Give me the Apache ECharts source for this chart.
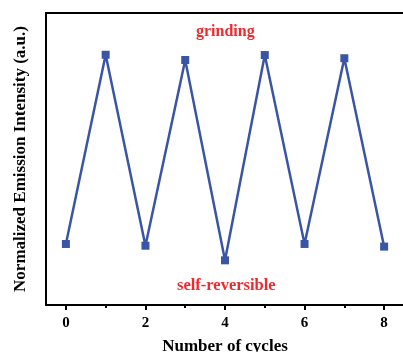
<!doctype html>
<html>
    <head>
        <meta charset="utf-8">
        <title>Emission cycles</title>
        <style>
            html, body { margin: 0; padding: 0; background: #fff; }
            #main { width: 403px; height: 352px; }
        </style>
    </head>
    <body>
        <div id="main"></div>
        <script src="https://cdn.jsdelivr.net/npm/echarts@6/dist/echarts.min.js"></script>
        <script>

// cycle number and normalized intensity
var cycles = [0, 1, 2, 3, 4, 5, 6, 7, 8];
var intensity = [0.209, 0.857, 0.203, 0.839, 0.153, 0.856, 0.209, 0.845, 0.200];
var majorTicks = [0, 2, 4, 6, 8];
var minorTicks = [1, 3, 5, 7];

var font = 'Liberation Serif';
var blue = '#3a55a6';
var red = '#ee2a2f';

var chart = echarts.init(document.getElementById('main'), null, { renderer: 'canvas' });

chart.setOption({
    animation: false,
    grid: {
        left: 46,
        right: -1,
        top: 13,
        bottom: 47,
        outerBoundsMode: 'none',
        containLabel: false,
        show: true,
        borderColor: '#000',
        borderWidth: 2
    },
    xAxis: [{
        type: 'value',
        min: -0.5,
        max: 8.5,
        name: 'Number of cycles',
        nameLocation: 'middle',
        nameGap: 33,
        nameTextStyle: { fontFamily: font, fontWeight: 'bold', fontSize: 17, color: '#000' },
        axisLine: { onZero: false, lineStyle: { color: '#000', width: 2 } },
        axisTick: { customValues: majorTicks, length: 5, lineStyle: { color: '#000', width: 2 } },
        axisLabel: { customValues: majorTicks, margin: 11, fontFamily: font, fontWeight: 'bold', fontSize: 15, color: '#000' },
        splitLine: { show: false }
    }, {
        type: 'value',
        position: 'bottom',
        min: -0.5,
        max: 8.5,
        axisLine: { show: false, onZero: false },
        axisTick: { customValues: minorTicks, length: 3, lineStyle: { color: '#000', width: 2 } },
        axisLabel: { show: false },
        splitLine: { show: false }
    }],
    yAxis: {
        type: 'value',
        min: 0,
        max: 1,
        name: 'Normalized Emission Intensity (a.u.)',
        nameLocation: 'middle',
        nameGap: 17,
        nameTextStyle: { fontFamily: font, fontWeight: 'bold', fontSize: 17, color: '#000' },
        axisLine: { show: true, onZero: false, lineStyle: { color: '#000', width: 2 } },
        axisTick: { show: false },
        axisLabel: { show: false },
        splitLine: { show: false }
    },
    graphic: [{
        type: 'text',
        left: 196,
        top: 24,
        style: { text: 'grinding', fontFamily: font, fontWeight: 'bold', fontSize: 16, fill: red }
    }, {
        type: 'text',
        top: 277,
        left: 177,
        style: { text: 'self-reversible', fontFamily: font, fontWeight: 'bold', fontSize: 16.5, fill: red }
    }],
    series: [{
        type: 'line',
        xAxisIndex: 0,
        data: cycles.map(function (c, i) { return [c, intensity[i]]; }),
        symbol: 'rect',
        symbolSize: 8,
        lineStyle: { color: blue, width: 2.5 },
        itemStyle: { color: blue }
    }]
});

        </script>
    </body>
</html>
